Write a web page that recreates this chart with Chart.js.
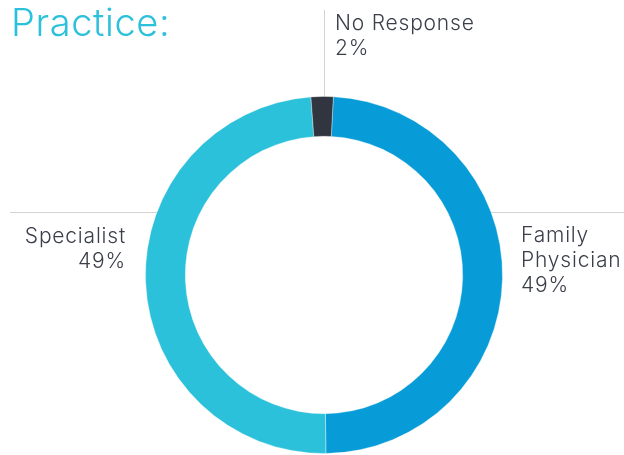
<!DOCTYPE html>
<html>
<head>
<meta charset="utf-8">
<script src="https://cdn.jsdelivr.net/npm/chart.js@4"></script>
<style>
  html, body { margin: 0; padding: 0; background: #fff; }
  #wrap { position: relative; width: 624px; height: 455px; }
</style>
</head>
<body>
<div id="wrap"><canvas id="practiceChart" width="624" height="455"></canvas></div>
<script>
const titleText = 'Practice:';
const categories = [['Family', 'Physician'], ['Specialist'], ['No Response']];
const shares = [49, 49, 2];
const sliceColors = ['#079cd8', '#2bc1da', '#31353f'];

const FONT = "Inter, 'Open Sans', sans-serif";
const TEXT_COLOR = '#3b3f4a';
const LINE_COLOR = '#d4d4d4';

// title, leader lines and slice labels drawn around the ring
const calloutPlugin = {
    id: 'callouts',
    beforeDatasetsDraw(chart) {
        const arc = chart.getDatasetMeta(0).data[0];
        const cx = arc.x, cy = arc.y, r = arc.outerRadius;
        const ctx = chart.ctx;
        const lineY = 212.5;
        const dx = Math.sqrt(r * r - (lineY - cy) * (lineY - cy));
        ctx.save();
        ctx.strokeStyle = LINE_COLOR;
        ctx.lineWidth = 1;
        ctx.beginPath();
        ctx.moveTo(cx + 0.5, 10);
        ctx.lineTo(cx + 0.5, cy - r + 2);
        ctx.moveTo(10, lineY);
        ctx.lineTo(cx - dx + 2, lineY);
        ctx.moveTo(cx + dx - 2, lineY);
        ctx.lineTo(624, lineY);
        ctx.stroke();
        ctx.restore();
    },
    afterDraw(chart) {
        const ctx = chart.ctx;
        ctx.save();
        ctx.textBaseline = 'alphabetic';

        ctx.fillStyle = '#2bc1da';
        ctx.font = '300 38px ' + FONT;
        ctx.letterSpacing = '0.6px';
        ctx.textAlign = 'left';
        ctx.fillText(titleText, 11, 36);

        ctx.font = '300 21px ' + FONT;
        ctx.letterSpacing = '0.8px';
        ctx.fillStyle = TEXT_COLOR;
        const lineH = 25;
        const spots = [
            { x: 521, y: 242, align: 'left' },
            { x: 126, y: 243, align: 'right' },
            { x: 335, y: 30, align: 'left' }
        ];
        categories.forEach((lines, i) => {
            const s = spots[i];
            ctx.textAlign = s.align;
            const rows = lines.concat([shares[i] + '%']);
            rows.forEach((t, k) => ctx.fillText(t, s.x, s.y + k * lineH));
        });
        ctx.restore();
    }
};

new Chart(document.getElementById('practiceChart'), {
    type: 'doughnut',
    data: {
        labels: categories.map(l => l.join(' ')),
        datasets: [{
            data: shares,
            backgroundColor: sliceColors,
            borderColor: 'rgba(255,255,255,0.35)',
            borderWidth: 1,
            hoverOffset: 0
        }]
    },
    options: {
        responsive: false,
        animation: false,
        cutout: '77.7%',
        rotation: 3,
        layout: { padding: { top: 96, bottom: 1, left: 145, right: 121 } },
        plugins: {
            legend: { display: false },
            tooltip: { enabled: false }
        }
    },
    plugins: [calloutPlugin]
});
</script>
</body>
</html>
